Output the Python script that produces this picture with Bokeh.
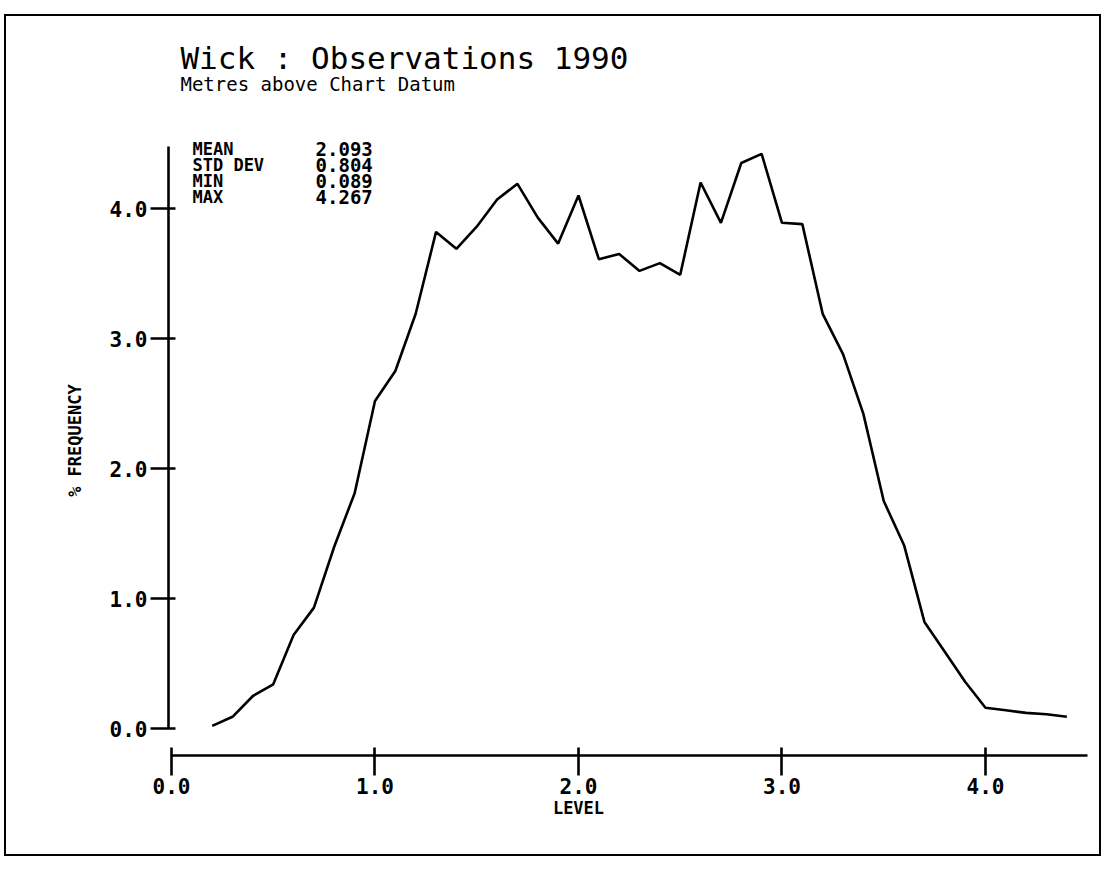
import math
from bokeh.plotting import figure
from bokeh.models import Range1d, FixedTicker, Label, PrintfTickFormatter
from bokeh.core.properties import value
from bokeh.embed import file_html
from bokeh.resources import INLINE

# ---- data ----
level = [0.2, 0.3, 0.4, 0.5, 0.6, 0.7, 0.8, 0.9, 1.0, 1.1, 1.2, 1.3, 1.4, 1.5,
         1.6, 1.7, 1.8, 1.9, 2.0, 2.1, 2.2, 2.3, 2.4, 2.5, 2.6, 2.7, 2.8, 2.9,
         3.0, 3.1, 3.2, 3.3, 3.4, 3.5, 3.6, 3.7, 3.8, 3.9, 4.0, 4.1, 4.2, 4.3, 4.4]
freq = [0.02, 0.09, 0.25, 0.34, 0.72, 0.93, 1.40, 1.81, 2.52, 2.75, 3.19, 3.82,
        3.69, 3.86, 4.07, 4.19, 3.93, 3.73, 4.10, 3.61, 3.65, 3.52, 3.58, 3.49,
        4.20, 3.89, 4.35, 4.42, 3.89, 3.88, 3.19, 2.88, 2.42, 1.75, 1.41, 0.82,
        0.59, 0.36, 0.16, 0.14, 0.12, 0.11, 0.09]
x_ticks = [0, 1, 2, 3, 4]
y_ticks = [0, 1, 2, 3, 4]
stat_names = ["MEAN", "STD DEV", "MIN", "MAX"]
stat_values = ["2.093", "0.804", "0.089", "4.267"]
title_text = "Wick : Observations 1990"
subtitle_text = "Metres above Chart Datum"
x_label = "LEVEL"
y_label = "% FREQUENCY"

MONO = "DejaVu Sans Mono"

p = figure(width=1097, height=842, output_backend="svg", toolbar_location=None,
           x_range=Range1d(-0.8108, 4.580), y_range=Range1d(-1.0, 5.477),
           min_border_left=0, min_border_right=0, min_border_top=0,
           min_border_bottom=0)
p.styles = {"border": "2px solid black", "margin-left": "4px",
            "margin-top": "14px"}
p.outline_line_color = None
p.grid.visible = False
p.background_fill_color = "white"
p.border_fill_color = "white"

p.line(level, freq, line_color="black", line_width=2.6)

for ax in (p.xaxis[0], p.yaxis[0]):
    ax.axis_line_width = 2.6
    ax.axis_line_color = "black"
    ax.major_tick_line_width = 2.6
    ax.major_tick_line_color = "black"
    ax.minor_tick_line_color = None
    ax.formatter = PrintfTickFormatter(format="%.1f")
    ax.major_label_text_font = MONO
    ax.major_label_text_font_style = "bold"
    ax.major_label_text_font_size = "21px"
    ax.major_label_text_color = "black"

p.xaxis.ticker = FixedTicker(ticks=x_ticks)
p.yaxis.ticker = FixedTicker(ticks=y_ticks)
p.xaxis.bounds = (0, 4.5)
p.yaxis.bounds = (0, 4.48)
p.yaxis.fixed_location = -0.0147
p.xaxis.fixed_location = -0.2077
p.xaxis.major_tick_in = 8
p.xaxis.major_tick_out = 20
p.yaxis.major_tick_in = 7
p.yaxis.major_tick_out = 18
p.xaxis.major_label_standoff = 2
p.yaxis.major_label_standoff = 3

# axis titles placed where the reference has them
p.add_layout(Label(x=2.0, y=-0.615, text=x_label, text_font=MONO,
                   text_font_style="bold", text_font_size="17px",
                   text_align="center", text_baseline="middle",
                   text_color="black"))
p.add_layout(Label(x=-0.472, y=2.215, text=y_label, text_font=MONO,
                   text_font_style="bold", text_font_size="17px",
                   text_align="center", text_baseline="middle",
                   angle=math.pi / 2, text_color="black"))

# statistics block
row_y = [4.46 - 0.123 * i for i in range(len(stat_names))]
p.text(x=[0.103] * len(stat_names), y=row_y, text=stat_names,
       text_font=value(MONO), text_font_style="bold", text_font_size="17px",
       text_baseline="middle", text_color="black")
p.text(x=[0.708] * len(stat_values), y=row_y, text=stat_values,
       text_font=value(MONO), text_font_style="bold", text_font_size="19px",
       text_baseline="middle", text_color="black")

p.add_layout(Label(x=0.044, y=5.16, text=title_text, text_font=MONO,
                   text_font_size="31px", text_baseline="middle",
                   text_color="black"))
p.add_layout(Label(x=0.044, y=4.96, text=subtitle_text, text_font=MONO,
                   text_font_size="19px", text_baseline="middle",
                   text_color="black"))

open("out.html", "w").write(file_html(p, INLINE))
